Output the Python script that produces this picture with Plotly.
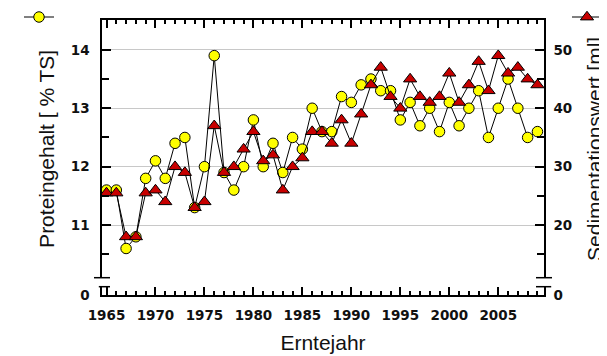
import plotly.graph_objects as go

years = list(range(1965, 2010))
protein = [11.6, 11.6, 10.6, 10.8, 11.8, 12.1, 11.8, 12.4, 12.5, 11.3,
           12.0, 13.9, 11.9, 11.6, 12.0, 12.8, 12.0, 12.4, 11.9, 12.5,
           12.3, 13.0, 12.6, 12.6, 13.2, 13.1, 13.4, 13.5, 13.3, 13.3,
           12.8, 13.1, 12.7, 13.0, 12.6, 13.1, 12.7, 13.0, 13.3, 12.5,
           13.0, 13.5, 13.0, 12.5, 12.6]
sediment = [25.5, 25.5, 18, 18, 25.5, 26, 24, 30, 29, 23,
            24, 37, 29, 30, 33, 36, 31, 32, 26, 30,
            31.5, 36, 36, 34, 38, 34, 39, 44, 47, 42,
            40, 45, 42, 41, 42, 46, 41, 44, 48, 43,
            49, 46, 47, 45, 44]
x_ticks = [1965, 1970, 1975, 1980, 1985, 1990, 1995, 2000, 2005]
left_ticks = [11, 12, 13, 14]
right_ticks = [20, 30, 40, 50]
bottom_ticks = [0]

# the page body has an 8px margin, so the figure is drawn 8px in from the window edge
OFF = 8
W, H = 607 - OFF, 356 - OFF
ML = 102 - OFF
MT = 20 - OFF
plot_right = 544 - OFF
plot_bottom = 295 - OFF
MR = W - plot_right
MB = H - plot_bottom
pw, ph = W - ML - MR, H - MT - MB
upper_bottom_px = 277.7 - OFF
lower_top_px = 286.7 - OFF
d_up = (plot_bottom - upper_bottom_px) / ph
d_low = (plot_bottom - lower_top_px) / ph

TICKFONT = dict(family="DejaVu Sans", size=13.5, color="#111111", weight="bold")
TITLEFONT = dict(family="Liberation Sans", size=21, color="#111111")

fig = go.Figure()
fig.add_trace(go.Scatter(
    x=years, y=protein, mode="lines+markers", name=" ",
    line=dict(color="black", width=1),
    marker=dict(symbol="circle", size=10.5, color="#ffff00",
                line=dict(color="black", width=1)),
    xaxis="x", yaxis="y", legend="legend", showlegend=True))
fig.add_trace(go.Scatter(
    x=years, y=sediment, mode="lines+markers", name=" ",
    line=dict(color="black", width=1),
    marker=dict(symbol="triangle-up", size=11.5, color="#c80000",
                line=dict(color="black", width=1)),
    xaxis="x", yaxis="y2", legend="legend2", showlegend=True))
# empty helper traces so the lower (broken) axis segment is drawn
for ya in ("y3", "y4"):
    fig.add_trace(go.Scatter(x=[years[0]], y=bottom_ticks, xaxis="x2", yaxis=ya,
                             mode="markers", marker=dict(opacity=0),
                             hoverinfo="skip", showlegend=False))

xr = [1964.54, 2009.67]
common_x = dict(range=xr, showgrid=False, zeroline=False, showline=True,
                linecolor="black", linewidth=1.5, ticks="inside",
                tickcolor="black", tickwidth=1.5,
                tickvals=x_ticks,
                minor=dict(dtick=1, tick0=1965, ticks="inside", ticklen=4,
                           tickcolor="black", tickwidth=1.5, showgrid=False))

fig.update_layout(
    width=W, height=H,
    margin=dict(l=ML, r=MR, t=MT, b=MB, autoexpand=False),
    paper_bgcolor="white", plot_bgcolor="white",
    xaxis=dict(anchor="y", side="top", showticklabels=False, ticklen=8, **common_x),
    xaxis2=dict(anchor="y3", side="bottom", matches="x", showticklabels=True,
                ticklen=8, tickfont=TICKFONT, ticklabelstandoff=7,
                title=dict(text="Erntejahr", font=TITLEFONT, standoff=13),
                **common_x),
    yaxis=dict(domain=[d_up, 1], range=[10.1, 14.51], tickvals=left_ticks,
               showline=True, linecolor="black", linewidth=1.5,
               ticks="inside", ticklen=9, tickcolor="black", tickwidth=1.5,
               minor=dict(dtick=0.5, tick0=10.5, ticks="inside", ticklen=7,
                          tickcolor="black", tickwidth=1.5, showgrid=False),
               showgrid=True, gridcolor="#c8c8c8", gridwidth=1, zeroline=False,
               tickfont=TICKFONT, ticklabelstandoff=8, anchor="x",
               title=dict(text="Proteingehalt [ % TS]", font=TITLEFONT, standoff=10)),
    yaxis2=dict(overlaying="y", side="right", range=[11, 55.1], tickvals=right_ticks,
                showline=True, linecolor="black", linewidth=1.5,
                ticks="inside", ticklen=9, tickcolor="black", tickwidth=1.5,
                minor=dict(dtick=5, tick0=15, ticks="inside", ticklen=7,
                           tickcolor="black", tickwidth=1.5, showgrid=False),
                showgrid=False, zeroline=False, anchor="x",
                tickfont=TICKFONT, ticklabelstandoff=5,
                title=dict(text="Sedimentationswert [ml]", font=TITLEFONT, standoff=16)),
    yaxis3=dict(domain=[0, d_low], range=[0, 1], tickvals=bottom_ticks, ticks="",
                showline=True, linecolor="black", linewidth=1.5, showgrid=False,
                zeroline=False, anchor="x2", tickfont=TICKFONT, ticklabelstandoff=8),
    yaxis4=dict(domain=[0, d_low], range=[0, 1], tickvals=bottom_ticks, ticks="",
                overlaying="y3", side="right", anchor="x2",
                showline=True, linecolor="black", linewidth=1.5, showgrid=False,
                zeroline=False, tickfont=TICKFONT, ticklabelstandoff=5),
    legend=dict(x=(11 - ML) / pw, y=(plot_bottom - 9) / ph, xanchor="left", yanchor="middle",
                bgcolor="rgba(0,0,0,0)", font=dict(size=12)),
    legend2=dict(x=(559 - ML) / pw, y=(plot_bottom - 9) / ph, xanchor="left", yanchor="middle",
                 bgcolor="rgba(0,0,0,0)", font=dict(size=12)),
)

# axis-break marks
mark = dict(type="line", xref="paper", yref="paper", line=dict(color="black", width=1.5))
half = 8 / pw
fig.add_shape(x0=-half, x1=half, y0=d_up, y1=d_up, **mark)
fig.add_shape(x0=1 - half, x1=1 + half, y0=d_up, y1=d_up, **mark)
fig.add_shape(x0=-0.4 * half, x1=half, y0=d_low, y1=d_low, **mark)
fig.add_shape(x0=1 - half, x1=1 + 0.9 * half, y0=d_low, y1=d_low, **mark)

fig.write_html("out.html")
